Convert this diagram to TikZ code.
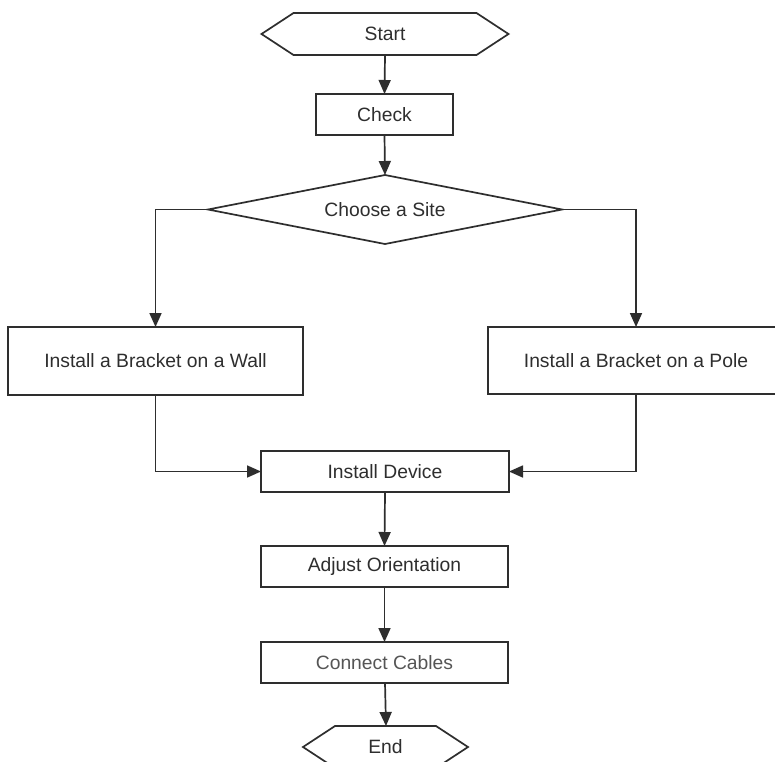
\documentclass[tikz,border=0pt]{standalone}
\usepackage{fontspec}
\setmainfont{Liberation Sans}
\usetikzlibrary{arrows.meta}
\definecolor{ln}{HTML}{2E2E2E}
\definecolor{tx}{HTML}{2E2E2E}
\definecolor{txl}{HTML}{555555}
\begin{document}
\begin{tikzpicture}[x=1pt,y=-1pt,
  font=\fontsize{19.3}{23}\selectfont,
  box/.style={draw=ln,line width=1.7pt,fill=white,text=tx,inner sep=0pt,outer sep=0pt},
  ghost/.style={inner sep=0pt,outer sep=0pt,text=tx},
  shp/.style={draw=ln,line width=1.7pt,fill=white},
  arr/.style={draw=ln,line width=1.7pt,-{Triangle[length=14pt,width=12pt]}}]
\useasboundingbox (0,0) rectangle (775,761);
\clip (0,0) rectangle (775,761);
\fill[white] (0,0) rectangle (775,761);
% nodes
\node[ghost,minimum width=247pt,minimum height=42pt] (start) at (385,34) {};
\draw[shp] ([xshift=32pt]start.north west) -- ([xshift=-32pt]start.north east) -- (start.east)
  -- ([xshift=-32pt]start.south east) -- ([xshift=32pt]start.south west) -- (start.west) -- cycle;
\node[ghost] at (start) {Start};
\node[box,minimum width=137pt,minimum height=41pt] (check) at (384.5,114.5) {Check};
\node[ghost,minimum width=354pt,minimum height=69pt] (choose) at (385,209.5) {};
\draw[shp] (choose.north) -- (choose.east) -- (choose.south) -- (choose.west) -- cycle;
\node[ghost] at (choose) {Choose a Site};
\node[box,minimum width=295pt,minimum height=68pt] (wall) at (155.5,361) {Install a Bracket on a Wall};
\node[box,minimum width=296pt,minimum height=67pt] (pole) at (636,360.5) {Install a Bracket on a Pole};
\node[box,minimum width=248pt,minimum height=41pt] (device) at (385,471.5) {Install Device};
\node[box,minimum width=247pt,minimum height=41pt] (adjust) at (384.5,566.5) {Adjust Orientation};
\node[box,minimum width=247pt,minimum height=41pt,text=txl] (connect) at (384.5,662.5) {Connect Cables};
\node[ghost,minimum width=165pt,minimum height=42pt] (end) at (385.5,747) {};
\draw[shp] ([xshift=32pt]end.north west) -- ([xshift=-32pt]end.north east) -- (end.east)
  -- ([xshift=-32pt]end.south east) -- ([xshift=32pt]end.south west) -- (end.west) -- cycle;
\node[ghost] at (end) {End};
% connectors
\draw[arr] (start.south) -- (check.north);
\draw[arr] (check.south) -- (choose.north);
\draw[arr] (choose.west) -| (wall.north);
\draw[arr] (choose.east) -| (pole.north);
\draw[arr] (wall.south) |- (device.west);
\draw[arr] (pole.south) |- (device.east);
\draw[arr] (device.south) -- (adjust.north);
\draw[arr] (adjust.south) -- (connect.north);
\draw[arr] ([xshift=0.5pt]connect.south) -- ([xshift=0.5pt]end.north);
\end{tikzpicture}
\end{document}
